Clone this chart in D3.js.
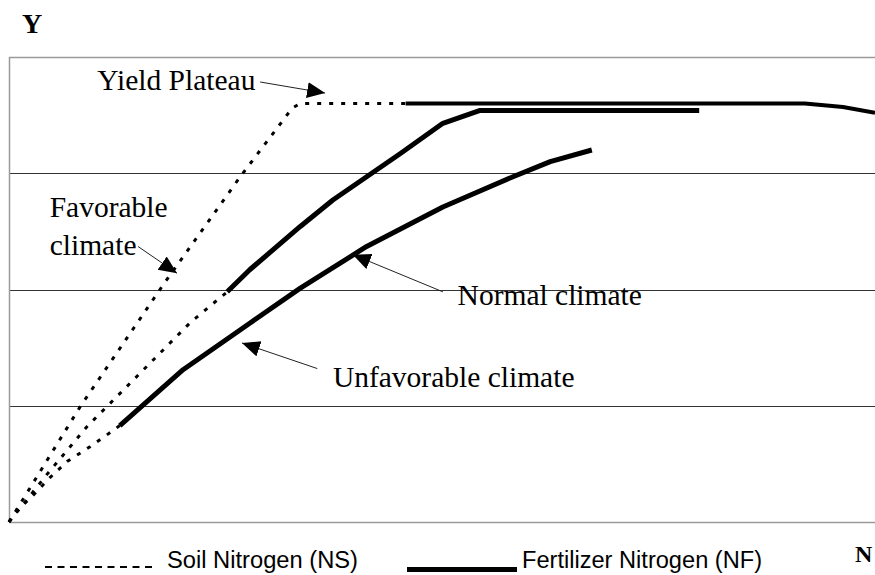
<!DOCTYPE html>
<html lang="en">
<head>
    <meta charset="UTF-8">
    <title>Yield response to nitrogen</title>
    <script src="https://d3js.org/d3.v7.min.js"></script>

    <style>
        body {
            margin: 0;
            background: white;
        }

        .label {
            font-family: "Liberation Serif", "Times New Roman", serif;
            font-size: 29.5px;
            fill: black;
        }

        .axisname {
            font-family: "Liberation Serif", "Times New Roman", serif;
            font-weight: bold;
            fill: black;
        }

        .legend {
            font-family: "Liberation Sans", Arial, sans-serif;
            font-size: 23.5px;
            fill: black;
        }
    </style>
</head>
<body>

    <div id="container"></div>

    <script>

        // N on x (0..100 across the plot), Y on y (gridlines at 0,1,2,3,4)
        const gridValues = [0, 1, 2, 3, 4];

        // soil nitrogen parts (dotted)
        const favorableSoil = [[0, 0], [8.2, 0.99], [17.8, 2.04], [26.7, 2.97], [32.7, 3.56], [33.6, 3.60], [45.8, 3.60]];
        const normalSoil = [[0, 0], [4.5, 0.42], [9, 0.82], [13, 1.12], [17, 1.42], [21, 1.72], [25.2, 1.98]];
        const unfavorableSoil = [[0, 0], [0.7, 0.08], [2.8, 0.23], [4.7, 0.38], [6.7, 0.52], [9.4, 0.65], [11.7, 0.77], [12.8, 0.83]];

        // fertilizer nitrogen parts (solid)
        const favorableFert = [[45.8, 3.60], [91.9, 3.60], [96.3, 3.57], [100, 3.52]];
        const normalFert = [[25.2, 1.98], [27.8, 2.17], [33.6, 2.54], [37.4, 2.77], [41.3, 2.97], [45.2, 3.17], [50.1, 3.43], [54.4, 3.54], [79.7, 3.54]];
        const unfavorableFert = [[12.8, 0.83], [20.1, 1.31], [27.8, 1.71], [33.6, 2.01], [41.3, 2.37], [50.1, 2.71], [58.2, 2.97], [62.5, 3.10], [67.3, 3.20]];

        const labelNames = ['Yield Plateau', 'Favorable', 'climate', 'Normal climate', 'Unfavorable climate'];
        const legendNames = ['Soil Nitrogen (NS)', 'Fertilizer Nitrogen (NF)'];

        const width = 875;
        const height = 575;
        const plotLeft = 9;
        const plotRight = 875;
        const plotTop = 57;
        const plotBottom = 522;

        const svg = d3.select('#container')
            .append('svg')
            .attr('width', width)
            .attr('height', height);

        const x = d3.scaleLinear().domain([0, 100]).range([plotLeft, plotRight]);
        const y = d3.scaleLinear().domain([0, 4]).range([plotBottom, plotTop]);

        // arrow head for the labels
        svg.append('defs')
            .append('marker')
            .attr('id', 'head')
            .attr('markerUnits', 'userSpaceOnUse')
            .attr('markerWidth', 19)
            .attr('markerHeight', 17)
            .attr('refX', 18)
            .attr('refY', 8)
            .attr('orient', 'auto')
            .append('path')
            .attr('d', 'M0,0 L18,8 L0,16 Z')
            .attr('fill', 'black');

        // gridlines, outer ones are the light frame
        svg.selectAll('.grid')
            .data(gridValues)
            .enter()
            .append('line')
            .attr('x1', plotLeft)
            .attr('x2', plotRight)
            .attr('y1', d => Math.round(y(d)) + 0.5)
            .attr('y2', d => Math.round(y(d)) + 0.5)
            .attr('stroke', d => (d === 0 || d === 4) ? '#9a9a9a' : '#333')
            .attr('stroke-width', d => (d === 0 || d === 4) ? 1.5 : 1);

        svg.append('line')
            .attr('x1', plotLeft + 0.5)
            .attr('x2', plotLeft + 0.5)
            .attr('y1', y(4))
            .attr('y2', y(0))
            .attr('stroke', '#9a9a9a')
            .attr('stroke-width', 1.5);

        const line = d3.line()
            .x(d => x(d[0]))
            .y(d => y(d[1]));

        // dotted soil nitrogen
        svg.selectAll('.soil')
            .data([favorableSoil, normalSoil, unfavorableSoil])
            .enter()
            .append('path')
            .attr('d', line)
            .attr('fill', 'none')
            .attr('stroke', 'black')
            .attr('stroke-width', 3)
            .attr('stroke-dasharray', '4,8');

        // solid fertilizer nitrogen
        svg.selectAll('.fert')
            .data([favorableFert, normalFert, unfavorableFert])
            .enter()
            .append('path')
            .attr('d', line)
            .attr('fill', 'none')
            .attr('stroke', 'black')
            .attr('stroke-width', (d, i) => i === 0 ? 4 : 5)
            .attr('stroke-linejoin', 'round');

        // labels with their arrows (text pos, arrow from, arrow to)
        const labelPos = [
            { t: [10.2, 3.72], a: [[29.0, 3.785], [36.5, 3.69]] },
            { t: [4.7, 2.62], a: null },
            { t: [4.7, 2.30], a: [[14.9, 2.37], [19.4, 2.14]] },
            { t: [51.8, 1.87], a: [[50.1, 1.98], [39.7, 2.30]] },
            { t: [37.4, 1.16], a: [[35.6, 1.32], [26.9, 1.54]] }
        ];

        svg.selectAll('.label')
            .data(labelNames)
            .enter()
            .append('text')
            .attr('class', 'label')
            .attr('x', (d, i) => x(labelPos[i].t[0]))
            .attr('y', (d, i) => y(labelPos[i].t[1]))
            .text(d => d);

        svg.selectAll('.leader')
            .data(labelPos.filter(p => p.a))
            .enter()
            .append('line')
            .attr('x1', d => x(d.a[0][0]))
            .attr('y1', d => y(d.a[0][1]))
            .attr('x2', d => x(d.a[1][0]))
            .attr('y2', d => y(d.a[1][1]))
            .attr('stroke', '#222')
            .attr('stroke-width', 1)
            .attr('marker-end', 'url(#head)');

        // axis names
        svg.append('text')
            .attr('class', 'axisname')
            .attr('x', 22)
            .attr('y', 33)
            .attr('font-size', 28)
            .text('Y');

        svg.append('text')
            .attr('class', 'axisname')
            .attr('x', 855)
            .attr('y', 562)
            .attr('font-size', 24)
            .text('N');

        // legend at the bottom
        svg.append('line')
            .attr('x1', 45)
            .attr('x2', 157)
            .attr('y1', 567)
            .attr('y2', 567)
            .attr('stroke', 'black')
            .attr('stroke-width', 2)
            .attr('stroke-dasharray', '7,5.5');

        svg.append('line')
            .attr('x1', 407)
            .attr('x2', 517)
            .attr('y1', 569.5)
            .attr('y2', 569.5)
            .attr('stroke', 'black')
            .attr('stroke-width', 5);

        svg.selectAll('.legend')
            .data(legendNames)
            .enter()
            .append('text')
            .attr('class', 'legend')
            .attr('x', (d, i) => i === 0 ? 167 : 522)
            .attr('y', 568)
            .attr('textLength', (d, i) => i === 0 ? 191 : 240)
            .attr('lengthAdjust', 'spacingAndGlyphs')
            .text(d => d);

    </script>

</body>
</html>
